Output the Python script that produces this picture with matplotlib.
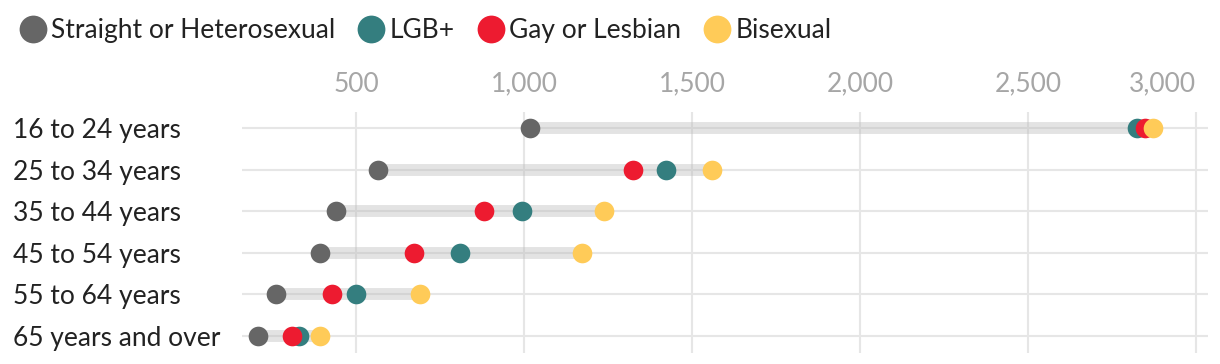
import numpy as np
import matplotlib
matplotlib.use("Agg")
import matplotlib.pyplot as plt
from matplotlib.lines import Line2D

plt.rcParams['font.family'] = ['Lato', 'DejaVu Sans']

# data
ages = ["16 to 24 years", "25 to 34 years", "35 to 44 years",
        "45 to 54 years", "55 to 64 years", "65 years and over"]
straight = [1018, 565, 440, 393, 261, 207]
lgb = [2824, 1422, 994, 810, 500, 330]
gay_lesbian = [2848, 1326, 881, 673, 428, 310]
bisexual = [2872, 1560, 1238, 1173, 690, 392]
ticks = [500, 1000, 1500, 2000, 2500, 3000]

series = [
    ("Straight or Heterosexual", straight, "#666666"),
    ("LGB+", lgb, "#347e7f"),
    ("Gay or Lesbian", gay_lesbian, "#ed1b30"),
    ("Bisexual", bisexual, "#ffcb58"),
]

fig = plt.figure(figsize=(12.2, 3.64), dpi=100)
ax = fig.add_axes([242 / 1220, 1 - 353 / 364, (1208 - 242) / 1220, (353 - 112) / 364])

y = np.arange(len(ages))
allv = np.array([straight, lgb, gay_lesbian, bisexual])
lo = allv.min(axis=0)
hi = allv.max(axis=0)

# range bars
ax.hlines(y, lo, hi, lw=8.6, color="#bbbbbb", alpha=0.4, zorder=2)

# dots
for name, vals, col in series:
    ax.scatter(vals, y, s=200, color=col, zorder=3, linewidths=0)

ax.set_xlim(160.7, 3036)
ax.set_ylim(5.41, -0.385)

ax.xaxis.tick_top()
ax.set_xticks(ticks)
ax.set_xticklabels([f"{t:,}" for t in ticks])
ax.tick_params(axis="x", length=0, pad=11, labelsize=19, labelcolor="#a6a6a6")
ax.get_xticklabels()[-1].set_ha("right")

ax.set_yticks(y)
ax.set_yticklabels(ages)
ax.tick_params(axis="y", length=0, pad=165, labelsize=19, labelcolor="#222222")
for lab in ax.get_yticklabels():
    lab.set_ha("left")

ax.grid(True, color="#e6e6e6", lw=1.5, zorder=0)
ax.set_axisbelow(True)
for s in ax.spines.values():
    s.set_visible(False)

# legend on top
handles = [Line2D([], [], marker="o", ls="", markersize=20, color=col,
                  markeredgewidth=0) for _, _, col in series]
fig.legend(handles, [n for n, _, _ in series], loc="upper left",
           bbox_to_anchor=(0.0, 1.0), ncol=4, frameon=False, fontsize=19,
           handletextpad=0.15, columnspacing=0.8, borderaxespad=0.3,
           labelcolor="#222222", handlelength=1.1)

fig.savefig("out.png", dpi=100)
